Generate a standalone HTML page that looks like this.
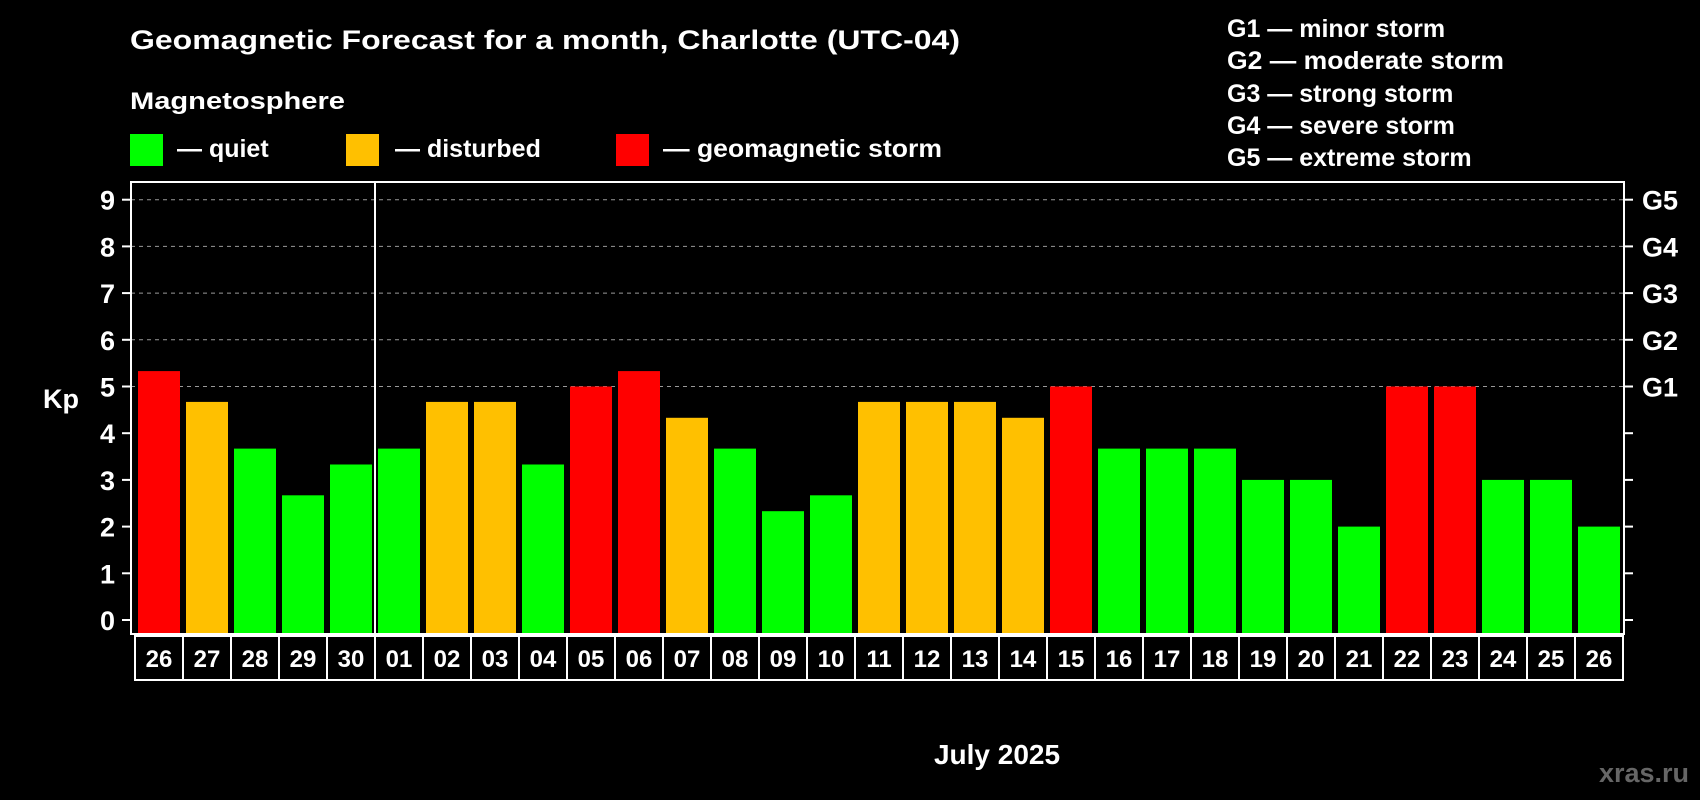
<!DOCTYPE html>
<html><head><meta charset="utf-8"><style>
html,body{margin:0;padding:0;background:#000;}
svg{display:block;font-family:"Liberation Sans",Arial,sans-serif;font-weight:bold;}
</style></head><body>
<svg id="chart" width="1700" height="800" viewBox="0 0 1700 800" xmlns="http://www.w3.org/2000/svg">
<rect x="0" y="0" width="1700" height="800" fill="#000"/>
<text x="130" y="49" fill="#fff" font-size="27" textLength="830" lengthAdjust="spacingAndGlyphs">Geomagnetic Forecast for a month, Charlotte (UTC-04)</text>
<text x="130" y="109" fill="#fff" font-size="24" textLength="215" lengthAdjust="spacingAndGlyphs">Magnetosphere</text>
<g>
<rect x="130" y="134" width="33" height="32" fill="#00ff00"/>
<text x="177" y="157" fill="#fff" font-size="25">— quiet</text>
</g>
<g>
<rect x="346" y="134" width="33" height="32" fill="#ffc000"/>
<text x="395" y="157" fill="#fff" font-size="25">— disturbed</text>
</g>
<g>
<rect x="616" y="134" width="33" height="32" fill="#ff0000"/>
<text x="663" y="157" fill="#fff" font-size="25" textLength="279" lengthAdjust="spacingAndGlyphs">— geomagnetic storm</text>
</g>
<g fill="#fff" font-size="25">
<text x="1227" y="37">G1 — minor storm</text>
<text x="1227" y="69" textLength="277" lengthAdjust="spacingAndGlyphs">G2 — moderate storm</text>
<text x="1227" y="102">G3 — strong storm</text>
<text x="1227" y="134">G4 — severe storm</text>
<text x="1227" y="166">G5 — extreme storm</text>
</g>
<text x="43" y="408" fill="#fff" font-size="27">Kp</text>
<text x="997" y="764" fill="#fff" font-size="28" text-anchor="middle">July 2025</text>
<text x="1689" y="782" fill="#666" font-size="27" text-anchor="end">xras.ru</text>
<g id="grid"></g>
<g id="bars"></g>
<g id="axes"></g>
</svg>
<script>
const days = ["26","27","28","29","30","01","02","03","04","05","06","07","08","09","10","11","12","13","14","15","16","17","18","19","20","21","22","23","24","25","26"];
const kpValues = [5.33,4.67,3.67,2.67,3.33,3.67,4.67,4.67,3.33,5,5.33,4.33,3.67,2.33,2.67,4.67,4.67,4.67,4.33,5,3.67,3.67,3.67,3,3,2,5,5,3,3,2];
const yTicks = [0,1,2,3,4,5,6,7,8,9];
const gLabels = ["G1","G2","G3","G4","G5"];
const gLevels = [5,6,7,8,9];
const monthBoundaryIndex = 5;

const NS = "http://www.w3.org/2000/svg";
const L = 131, R = 1624, T = 182, B = 634;
const x0 = 135, step = 48, barW = 42, barOff = 3;
function yScale(v){ return 620 - v * 46.7; }
function xScale(i){ return x0 + i * step; }
function mk(tag, attrs, parent){
  const e = document.createElementNS(NS, tag);
  for (const k in attrs) e.setAttribute(k, attrs[k]);
  parent.appendChild(e); return e;
}
function color(v){ return v >= 5 ? "#ff0000" : (v >= 4 ? "#ffc000" : "#00ff00"); }

const grid = document.getElementById("grid");
gLevels.forEach(v => {
  const ln = mk("line", {x1:L, x2:R, y1:yScale(v), y2:yScale(v), stroke:"#999", "stroke-width":1, "stroke-dasharray":"4,4"}, grid);
  
  
});

const bars = document.getElementById("bars");
kpValues.forEach((v, i) => {
  const y = yScale(v);
  const r = mk("rect", {x:xScale(i)+barOff, y:y, width:barW, height:B - y, fill:color(v)}, bars);
  
  
});

const axes = document.getElementById("axes");
const frame = mk("rect", {x:L, y:T, width:R-L, height:B-T, fill:"none", stroke:"#fff", "stroke-width":2}, axes);


const sep = mk("line", {x1:xScale(monthBoundaryIndex), x2:xScale(monthBoundaryIndex), y1:T, y2:B, stroke:"#fff", "stroke-width":2}, axes);



yTicks.forEach(v => {
  const y = yScale(v);
  const t = mk("line", {x1:122, x2:L, y1:y, y2:y, stroke:"#fff", "stroke-width":2}, axes);
  
  
  const t2 = mk("line", {x1:R, x2:1633, y1:y, y2:y, stroke:"#fff", "stroke-width":2}, axes);
  
  
  const lb = mk("text", {x:115, y:y+10, fill:"#fff", "font-size":27, "text-anchor":"end"}, axes);
  lb.textContent = String(v);
  
  
});
gLabels.forEach((g, i) => {
  const lb = mk("text", {x:1642, y:yScale(gLevels[i])+10, fill:"#fff", "font-size":27}, axes);
  lb.textContent = g;
  
  
});

days.forEach((d, i) => {
  const c = mk("rect", {x:xScale(i), y:636, width:step, height:44, fill:"none", stroke:"#fff", "stroke-width":2}, axes);
  
  
  const t = mk("text", {x:xScale(i)+step/2, y:667, fill:"#fff", "font-size":24, "text-anchor":"middle"}, axes);
  t.textContent = d;
  
  
});
</script>
</body></html>
